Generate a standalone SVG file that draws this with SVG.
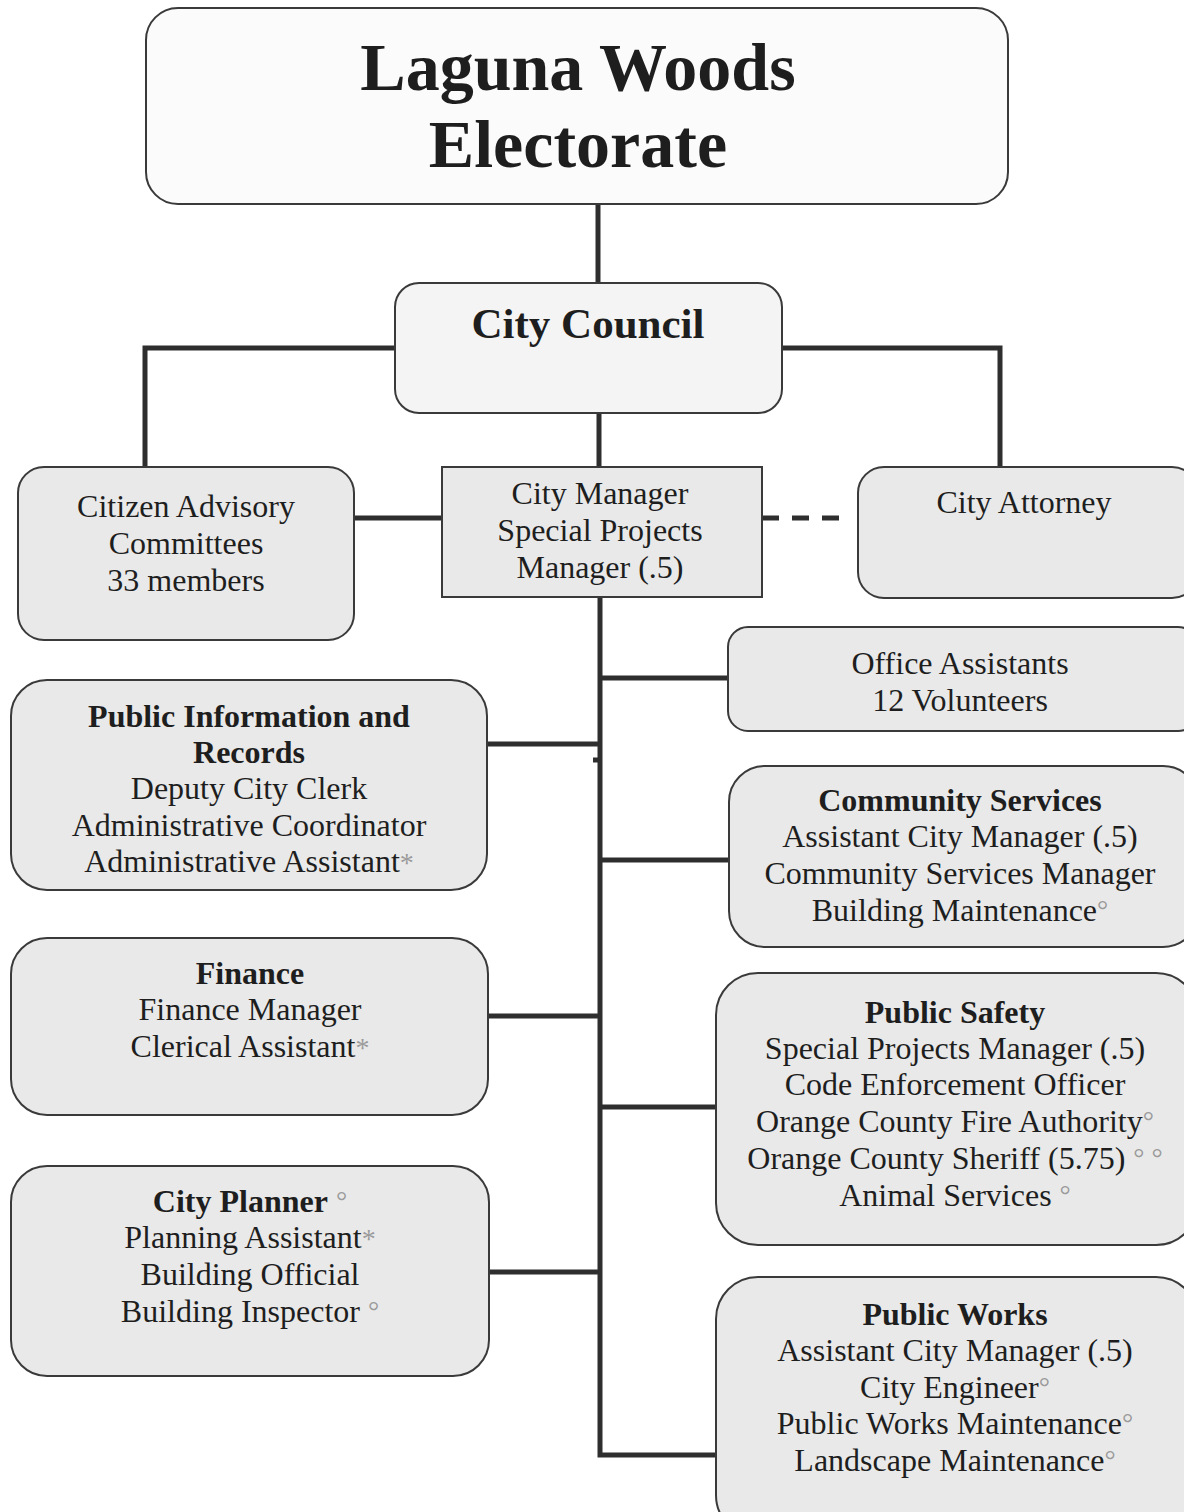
<svg xmlns="http://www.w3.org/2000/svg" width="1184" height="1512" viewBox="0 0 1184 1512">
<style>
.box{fill:#e9e9e9;stroke:#3a3a3a;stroke-width:2}
.t{font-family:"Liberation Serif","Times New Roman",serif;font-size:32px;fill:#1e1e1e;text-anchor:middle}
.b{font-weight:bold}
.m{fill:#9a9a9a;font-size:28px}
.c{fill:none;stroke:#2e2e2e;stroke-width:5}
</style>
<rect width="1184" height="1512" fill="#ffffff"/>
<g id="connectors">
<path class="c" d="M598 204V283"/>
<path class="c" d="M395 348H145V467"/>
<path class="c" d="M782 348H1000V467"/>
<path class="c" d="M599 413V467"/>
<path class="c" d="M354 518H442"/>
<path class="c" d="M762 518H845" stroke-dasharray="17 13"/>
<path class="c" d="M600 597V1455H716"/>
<path class="c" d="M600 678H728"/>
<path class="c" d="M487 744H600"/>
<path class="c" d="M593 760H600"/>
<path class="c" d="M600 860H729"/>
<path class="c" d="M488 1016H600"/>
<path class="c" d="M600 1107H716"/>
<path class="c" d="M489 1272H600"/>
</g>
<g id="electorate">
<rect x="146" y="8" width="862" height="196" rx="32" fill="#fbfbfb" stroke="#3a3a3a" stroke-width="2"/>
<text class="t b" x="578" y="90" style="font-size:68px">Laguna Woods</text>
<text class="t b" x="578" y="167" style="font-size:68px">Electorate</text>
</g>
<g id="city-council">
<rect x="395" y="283" width="387" height="130" rx="24" fill="#f4f4f4" stroke="#3a3a3a" stroke-width="2"/>
<text class="t b" x="588" y="338" style="font-size:43px">City Council</text>
</g>
<g id="citizen-advisory">
<rect class="box" x="18" y="467" width="336" height="173" rx="26"/>
<text class="t" x="186" y="517">Citizen Advisory</text>
<text class="t" x="186" y="554">Committees</text>
<text class="t" x="186" y="591">33 members</text>
</g>
<g id="city-manager">
<rect class="box" x="442" y="467" width="320" height="130" rx="0"/>
<text class="t" x="600" y="504">City Manager</text>
<text class="t" x="600" y="541">Special Projects</text>
<text class="t" x="600" y="578">Manager (.5)</text>
</g>
<g id="city-attorney">
<rect class="box" x="858" y="467" width="340" height="131" rx="26"/>
<text class="t" x="1024" y="513">City Attorney</text>
</g>
<g id="office-assistants">
<rect class="box" x="728" y="627" width="470" height="104" rx="20"/>
<text class="t" x="960" y="674">Office Assistants</text>
<text class="t" x="960" y="711">12 Volunteers</text>
</g>
<g id="public-information">
<rect class="box" x="11" y="680" width="476" height="210" rx="36"/>
<text class="t b" x="249" y="727">Public Information and</text>
<text class="t b" x="249" y="763">Records</text>
<text class="t" x="249" y="799">Deputy City Clerk</text>
<text class="t" x="249" y="836">Administrative Coordinator</text>
<text class="t" x="249" y="872">Administrative Assistant<tspan class="m">*</tspan></text>
</g>
<g id="community-services">
<rect class="box" x="729" y="766" width="470" height="181" rx="36"/>
<text class="t b" x="960" y="811">Community Services</text>
<text class="t" x="960" y="847">Assistant City Manager (.5)</text>
<text class="t" x="960" y="884">Community Services Manager</text>
<text class="t" x="960" y="921">Building Maintenance<tspan class="m" dy="-2">°</tspan></text>
</g>
<g id="finance">
<rect class="box" x="11" y="938" width="477" height="177" rx="36"/>
<text class="t b" x="250" y="984">Finance</text>
<text class="t" x="250" y="1020">Finance Manager</text>
<text class="t" x="250" y="1057">Clerical Assistant<tspan class="m">*</tspan></text>
</g>
<g id="public-safety">
<rect class="box" x="716" y="973" width="482" height="272" rx="42"/>
<text class="t b" x="955" y="1023">Public Safety</text>
<text class="t" x="955" y="1059">Special Projects Manager (.5)</text>
<text class="t" x="955" y="1095">Code Enforcement Officer</text>
<text class="t" x="955" y="1132">Orange County Fire Authority<tspan class="m" dy="-2">°</tspan></text>
<text class="t" x="955" y="1169">Orange County Sheriff (5.75) <tspan class="m" dy="-2">° °</tspan></text>
<text class="t" x="955" y="1206">Animal Services <tspan class="m" dy="-2">°</tspan></text>
</g>
<g id="city-planner">
<rect class="box" x="11" y="1166" width="478" height="210" rx="36"/>
<text class="t" x="250" y="1212"><tspan class="b">City Planner</tspan> <tspan class="m" dy="-2">°</tspan></text>
<text class="t" x="250" y="1248">Planning Assistant<tspan class="m">*</tspan></text>
<text class="t" x="250" y="1285">Building Official</text>
<text class="t" x="250" y="1322">Building Inspector <tspan class="m" dy="-2">°</tspan></text>
</g>
<g id="public-works">
<rect class="box" x="716" y="1277" width="482" height="260" rx="42"/>
<text class="t b" x="955" y="1325">Public Works</text>
<text class="t" x="955" y="1361">Assistant City Manager (.5)</text>
<text class="t" x="955" y="1398">City Engineer<tspan class="m" dy="-2">°</tspan></text>
<text class="t" x="955" y="1434">Public Works Maintenance<tspan class="m" dy="-2">°</tspan></text>
<text class="t" x="955" y="1471">Landscape Maintenance<tspan class="m" dy="-2">°</tspan></text>
</g>
</svg>
